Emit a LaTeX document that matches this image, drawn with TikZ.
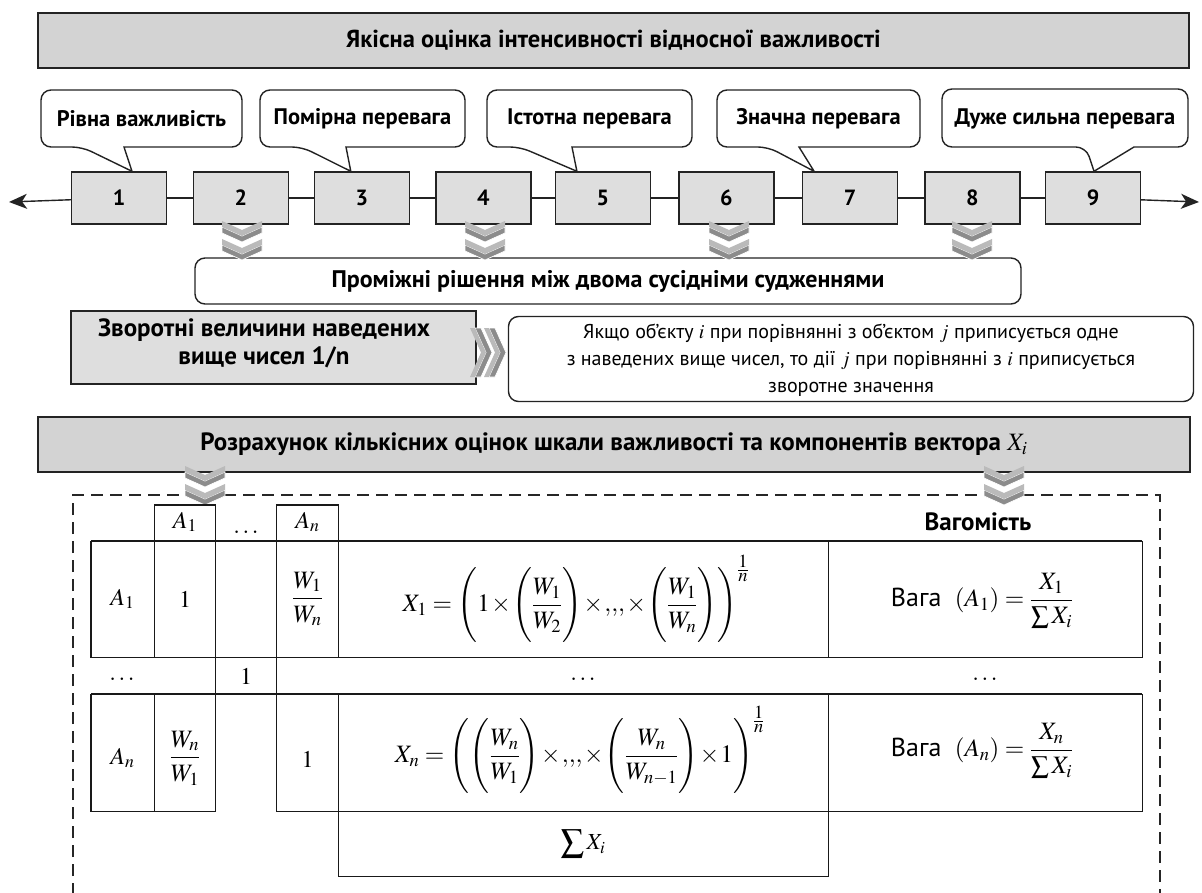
\documentclass[tikz,border=0pt]{standalone}
\usepackage{mathptmx}
\usepackage{fontspec}
\setmainfont{PT Sans}
\usetikzlibrary{arrows.meta,calc}
\definecolor{tgray}{RGB}{211,211,211}
\definecolor{bgray}{RGB}{222,222,222}
\definecolor{chl}{RGB}{186,186,186}
\definecolor{chd}{RGB}{140,140,140}
\definecolor{edge}{RGB}{35,35,35}
\newcommand{\expo}{\frac{\scriptstyle 1}{\scriptstyle n}}
\newcommand{\tall}{\vrule height 42pt depth 30pt width 0pt}
\newcommand{\tightmath}{\medmuskip=1mu\thinmuskip=1mu}
\begin{document}
\begin{tikzpicture}[x=1pt,y=-1pt,
  titlebox/.style={draw=edge,line width=1.8pt,fill=tgray,inner sep=0pt},
  numbox/.style={draw=edge,line width=1.4pt,fill=bgray,minimum width=95pt,minimum height=52pt,inner sep=0pt,font=\fontsize{22}{26}\selectfont\bfseries},
  calloutline/.style={draw=edge,line width=1.4pt,fill=white},
  calltext/.style={inner sep=0pt,font=\fontsize{22.5}{26}\selectfont\bfseries},
  roundbox/.style={draw=edge,line width=1.4pt,fill=white,rounded corners=10pt,inner sep=0pt},
  axisline/.style={draw=edge,line width=1.4pt},
  tline/.style={draw=black!90,line width=1.2pt},
  dashframe/.style={draw=black!85,line width=1.6pt,dash pattern=on 12pt off 7pt},
  cell/.style={inner sep=0pt,font=\fontsize{24}{28}\selectfont},
  fcell/.style={inner sep=0pt,font=\fontsize{25}{28}\selectfont},
  ruletext/.style={inner sep=0pt,anchor=base,font=\fontsize{20}{26}\selectfont},
  dchev/.pic={
    \foreach \k in {18,0}{
      \filldraw[fill=chd,draw=white,line width=0.7pt] (-20,\k+6) -- (0,\k+15) -- (20,\k+6) -- (20,\k+12) -- (0,\k+21) -- (-20,\k+12) -- cycle;
      \fill[chl] (-20,\k) -- (0,\k+9) -- (20,\k) -- (20,\k+6) -- (0,\k+15) -- (-20,\k+6) -- cycle;
    }
  },
  rchev/.pic={
    \foreach \k in {14,0}{
      \filldraw[fill=chd,draw=white,line width=0.7pt] (\k+5,-24.5) -- (\k+16,0) -- (\k+5,24.5) -- (\k+11,24.5) -- (\k+22,0) -- (\k+11,-24.5) -- cycle;
      \fill[chl] (\k,-24.5) -- (\k+11,0) -- (\k,24.5) -- (\k+5,24.5) -- (\k+16,0) -- (\k+5,-24.5) -- cycle;
    }
  }
]
\useasboundingbox (0,0) rectangle (1202,893);

% ---------- top title ----------
\node[titlebox,minimum width=1151pt,minimum height=55pt,font=\fontsize{24.5}{28}\selectfont\bfseries] (t1) at (613.5,40.5)
  {Якісна оцінка інтенсивності відносної важливості};

% ---------- scale boxes ----------
\coordinate (aL) at (9,202);
\coordinate (aR) at (1199,202);
\foreach \i/\xx in {1/119,2/240.8,3/361.8,4/483.3,5/602.9,6/726.3,7/850.1,8/972.3,9/1093}{
  \node[numbox] (b\i) at (\xx,198) {\i};
}
\draw[axisline,{Stealth[length=18pt,width=15pt,inset=5pt]}-] (aL) -- (b1);
\foreach \a/\b in {1/2,2/3,3/4,4/5,5/6,6/7,7/8,8/9}{
  \draw[axisline] (b\a) -- (b\b);
}
\draw[axisline,-{Stealth[length=18pt,width=15pt,inset=5pt]}] (b9) -- (aR);

% ---------- callouts ----------
\draw[calloutline] (124,147) [rounded corners=10pt] -- (242,147) -- (242,90) -- (41,90) -- (41,147) -- (82,147) [sharp corners] -- ($(b1.north)+(13,0)$) -- cycle;
\draw[calloutline] (346,147) [rounded corners=10pt] -- (465,147) -- (465,90) -- (260,90) -- (260,147) -- (302,147) [sharp corners] -- ($(b3.north)+(-11,0)$) -- cycle;
\draw[calloutline] (572,147) [rounded corners=10pt] -- (692,147) -- (692,90) -- (487,90) -- (487,147) -- (520,147) [sharp corners] -- ($(b5.north)+(-26,0)$) -- cycle;
\draw[calloutline] (799,147) [rounded corners=10pt] -- (920,147) -- (920,90) -- (717,90) -- (717,147) -- (768,147) [sharp corners] -- ($(b7.north)+(-36,0)$) -- cycle;
\draw[calloutline] (1134,147) [rounded corners=10pt] -- (1188,147) -- (1188,89) -- (942,89) -- (942,147) -- (1086,147) [sharp corners] -- ($(b9.north)+(1,0)$) -- cycle;
\node[calltext] (c1) at (141.5,118.5) {Рівна важливість};
\node[calltext] (c2) at (362.5,118.5) {Помірна перевага};
\node[calltext] (c3) at (589.5,118.5) {Істотна перевага};
\node[calltext] (c4) at (818.5,118.5) {Значна перевага};
\node[calltext] (c5) at (1065,118.5) {Дуже сильна перевага};

% ---------- intermediate ----------
\node[roundbox,minimum width=826pt,minimum height=46pt,font=\fontsize{24}{28}\selectfont\bfseries] (mid) at (608,281)
  {Проміжні рішення між двома сусідніми судженнями};
\foreach \xx in {242,485,729,972}{
  \pic at (\xx,221) {dchev};
}

% ---------- reciprocals ----------
\node[draw=edge,line width=1.6pt,fill=bgray,minimum width=405pt,minimum height=73pt,inner sep=0pt] (rec) at (273.5,347.5) {};
\node[align=center,inner sep=0pt,font=\fontsize{25}{28}\selectfont\bfseries] (rect) at (264,343)
  {Зворотні величини наведених\\вище чисел 1/n};
\pic at (470,352.5) {rchev};
\node[roundbox,minimum width=685pt,minimum height=85pt] (rule) at (851,359) {};
\node[ruletext] (rl1) at (851,338) {Якщо об’єкту $i$ при порівнянні з об’єктом $j$ приписується одне};
\node[ruletext] (rl2) at (851,365) {з наведених вище чисел, то дії $j$ при порівнянні з $i$ приписується};
\node[ruletext] (rl3) at (851,392) {зворотне значення};

% ---------- bottom title ----------
\node[titlebox,minimum width=1152pt,minimum height=55pt,font=\fontsize{25}{28}\selectfont\bfseries] (t2) at (614,444.5)
  {Розрахунок кількісних оцінок шкали важливості та компонентів вектора \mdseries$X_i$};

% ---------- dashed frame ----------
\draw[dashframe] (73,895) -- (73,495) -- (1160,495) -- (1160,895);
\pic at (205,466) {dchev};
\pic at (1004,466) {dchev};

% ---------- table ----------
\draw[tline] (154.3,541) -- (154.3,505) -- (215.7,505) -- (215.7,541);
\draw[tline] (276.7,541) -- (276.7,505) -- (338.3,505) -- (338.3,541);
\draw[tline] (91,541) -- (1142.3,541);
\draw[tline] (91,657.7) -- (1142.3,657.7);
\draw[tline] (91,694) -- (1142.3,694);
\draw[tline] (91,811.7) -- (215.7,811.7);
\draw[tline] (276.7,811.7) -- (1142.3,811.7);
\draw[tline] (338.3,876.7) -- (828.3,876.7);
\draw[tline] (91,541) -- (91,657.7);
\draw[tline] (91,694) -- (91,811.7);
\draw[tline] (154.3,541) -- (154.3,657.7);
\draw[tline] (154.3,694) -- (154.3,811.7);
\draw[tline] (215.7,505) -- (215.7,811.7);
\draw[tline] (276.7,505) -- (276.7,811.7);
\draw[tline] (338.3,505) -- (338.3,657.7);
\draw[tline] (338.3,694) -- (338.3,876.7);
\draw[tline] (828.3,541) -- (828.3,657.7);
\draw[tline] (828.3,694) -- (828.3,876.7);
\draw[tline] (1142.3,541) -- (1142.3,657.7);
\draw[tline] (1142.3,694) -- (1142.3,811.7);

% header
\node[cell] (hA1) at (185,522) {$A_1$};
\node[cell,anchor=base] (hdots) at (246,533) {$\ldots$};
\node[cell] (hAn) at (307.5,522) {$A_n$};
\node[inner sep=0pt,font=\fontsize{25}{28}\selectfont\bfseries] (wag) at (978,522) {Вагомість};
% row 1
\node[cell] (r1a) at (122.5,599) {$A_1$};
\node[cell] (r1b) at (185,599) {$1$};
\node[fcell] (r1c) at (307.5,599) {$\displaystyle\frac{W_1}{W_n}$};
\node[fcell] (r1f) at (576,599) {$\tightmath\displaystyle X_1=\left(\tall 1\times\left(\tall\frac{W_1}{W_2}\right)\times{,}{,}{,}\times\left(\tall\frac{W_1}{W_n}\right)\right)^{\expo}$};
\node[fcell] (r1w) at (982,601) {{\fontsize{26}{28}\selectfont Вага}\ \ $\displaystyle(A_1)=\frac{X_1}{\sum X_i}$};
% dots row
\node[cell,anchor=base] (dd1) at (122,680) {$\ldots$};
\node[cell] (d1) at (246,676) {$1$};
\node[cell,anchor=base] (dd2) at (583,680) {$\ldots$};
\node[cell,anchor=base] (dd3) at (985,680) {$\ldots$};
% row n
\node[cell] (rna) at (122.5,758) {$A_n$};
\node[fcell] (rnb) at (185,758) {$\displaystyle\frac{W_n}{W_1}$};
\node[cell] (rnc) at (307.5,759) {$1$};
\node[fcell] (rnf) at (580,750) {$\tightmath\displaystyle X_n=\left(\tall\left(\tall\frac{W_n}{W_1}\right)\times{,}{,}{,}\times\left(\tall\frac{W_n}{W_{n-1}}\right)\times1\right)^{\expo}$};
\node[fcell] (rnw) at (982,751) {{\fontsize{26}{28}\selectfont Вага}\ \ $\displaystyle(A_n)=\frac{X_n}{\sum X_i}$};
% sum row
\node[inner sep=0pt,font=\fontsize{23}{26}\selectfont] (sum) at (583,844) {$\displaystyle\sum X_i$};
\end{tikzpicture}
\end{document}
